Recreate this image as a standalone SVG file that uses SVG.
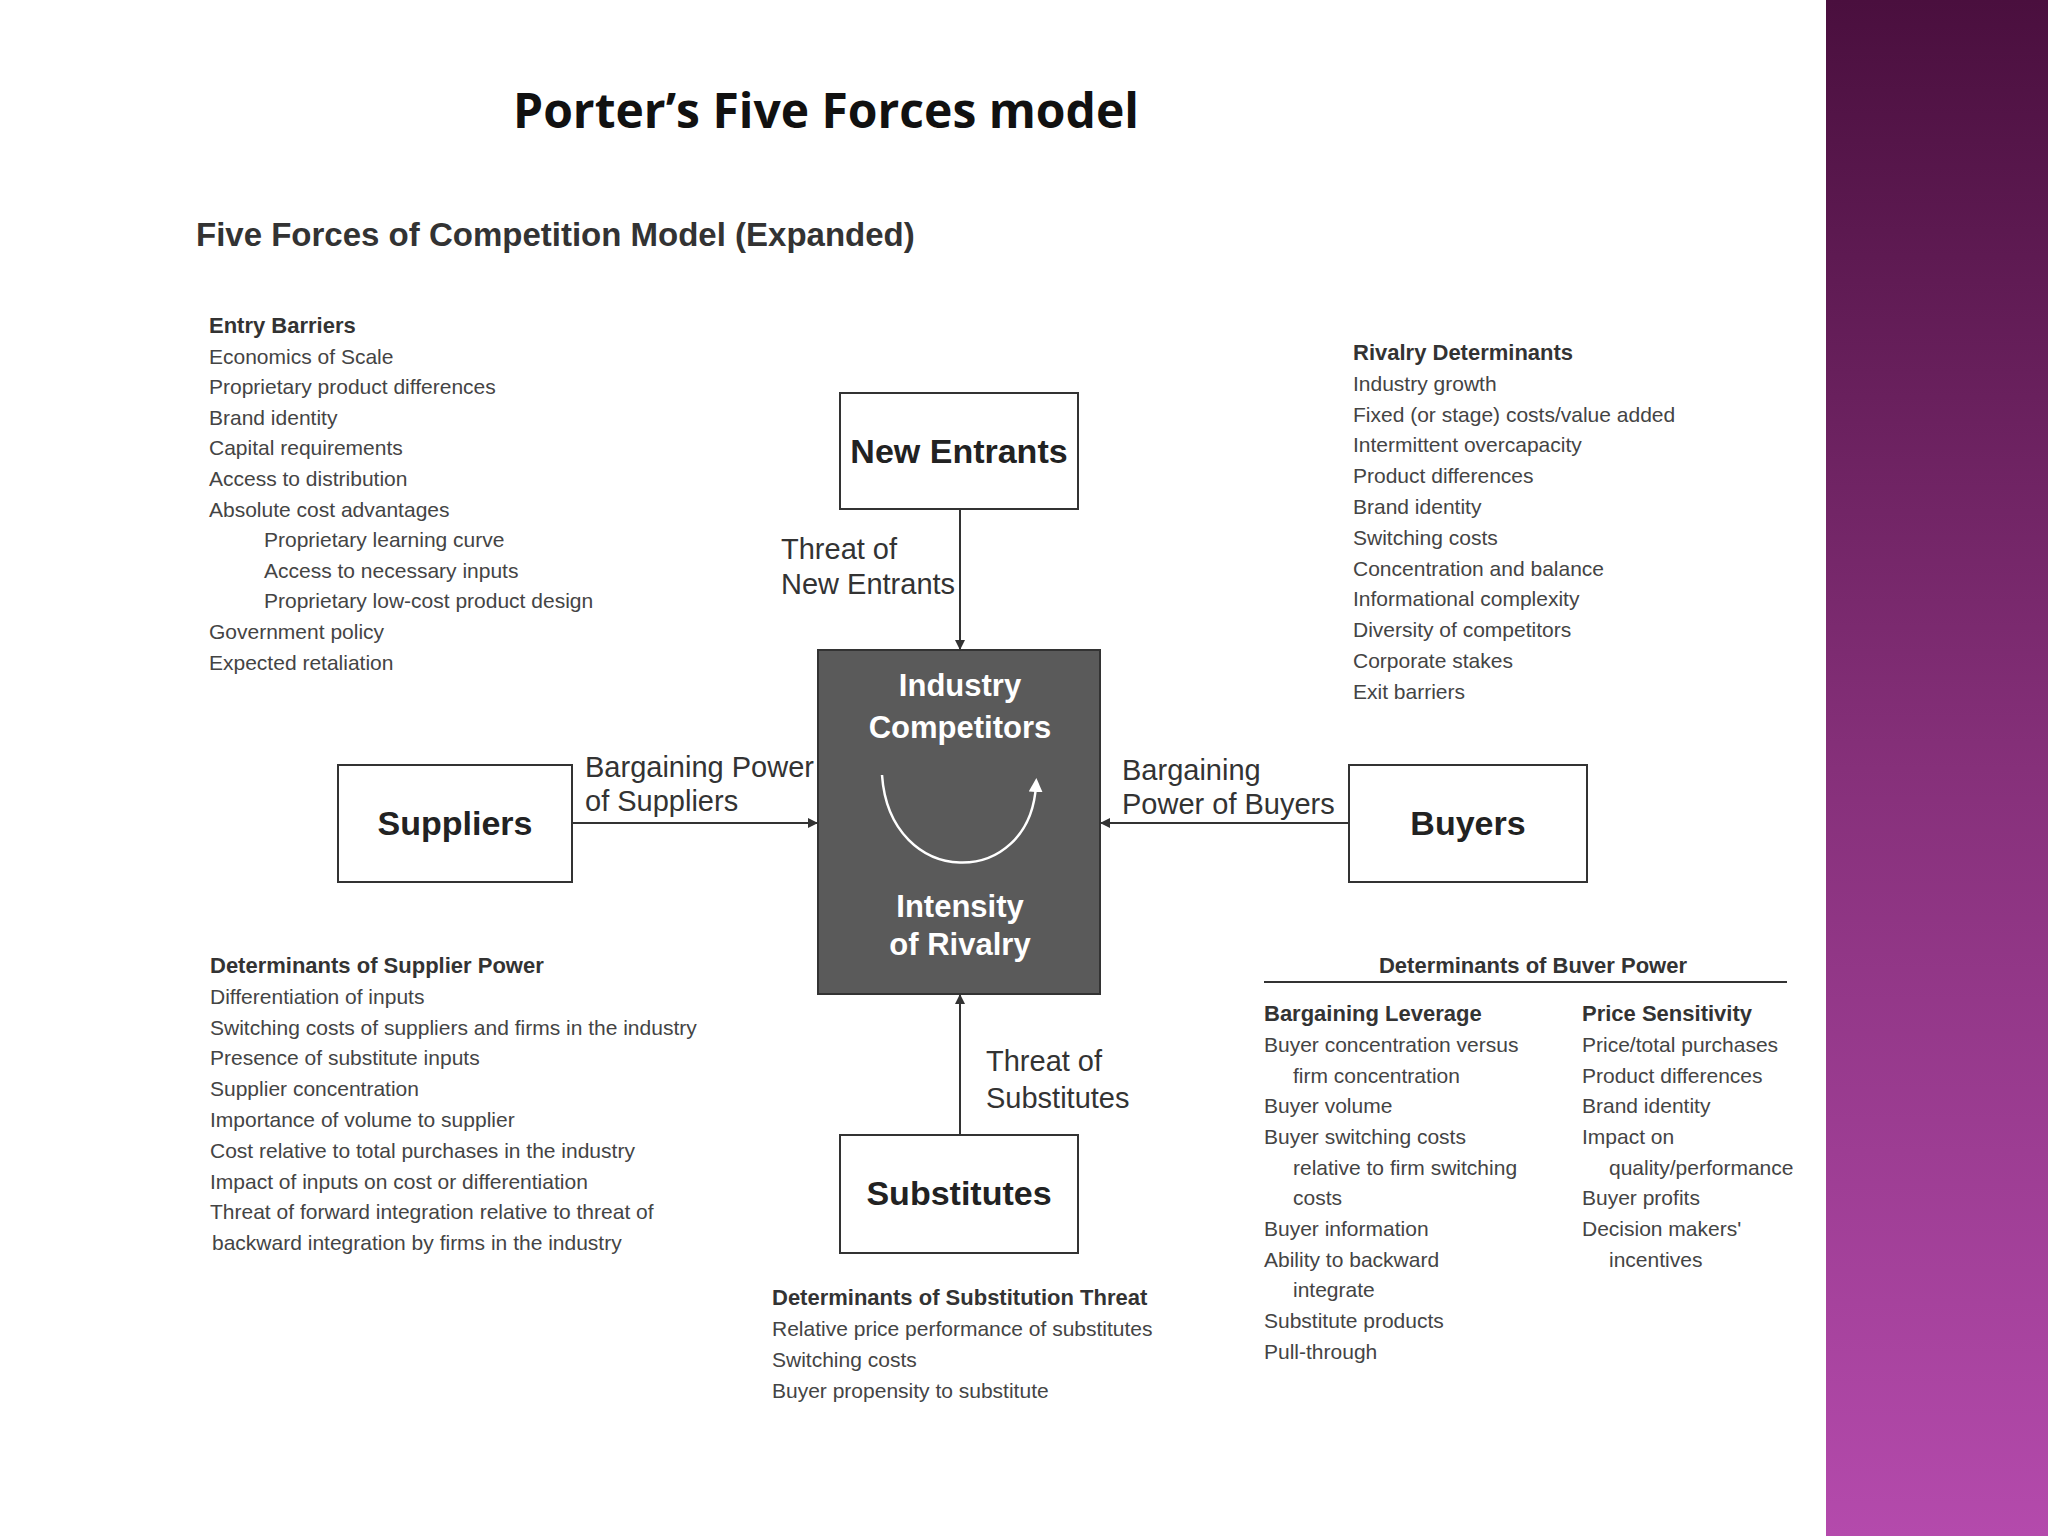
<svg xmlns="http://www.w3.org/2000/svg" width="2048" height="1536" viewBox="0 0 2048 1536">
<defs>
<linearGradient id="band" x1="0" y1="0" x2="0" y2="1">
<stop offset="0" stop-color="#4a0f3e"/><stop offset="0.5" stop-color="#86307a"/><stop offset="1" stop-color="#b44aac"/>
</linearGradient>
<marker id="ah" markerWidth="10" markerHeight="10" refX="9" refY="5" orient="auto" markerUnits="userSpaceOnUse"><path d="M0,0 L10,5 L0,10 z" fill="#333"/></marker>
<marker id="wh" markerWidth="14" markerHeight="14" refX="7" refY="7" orient="auto" markerUnits="userSpaceOnUse"><path d="M0,0 L14,7 L0,14 z" fill="#fff"/></marker>
<style>
.t{font-family:"Liberation Sans",Arial,sans-serif;font-size:21px;fill:#444}
.h{font-family:"Liberation Sans",Arial,sans-serif;font-size:22px;fill:#333;font-weight:bold}
.lab{font-family:"Liberation Sans",Arial,sans-serif;font-size:29px;fill:#333}
.box{fill:#fff;stroke:#333;stroke-width:2}
.bt{font-family:"Liberation Sans",Arial,sans-serif;font-size:34px;font-weight:bold;fill:#222;text-anchor:middle}
.wt{font-family:"Liberation Sans",Arial,sans-serif;font-size:31px;font-weight:bold;fill:#fff;text-anchor:middle}
.c{stroke:#333;stroke-width:2;fill:none}
</style>
</defs>
<rect width="2048" height="1536" fill="#fff"/>
<rect x="1826" y="0" width="222" height="1536" fill="url(#band)"/>
<text x="513" y="128" font-family="Open Sans,Noto Sans,sans-serif" font-size="48" font-weight="bold" fill="#111">Porter’s Five Forces model</text>
<text x="196" y="246" font-family="Liberation Sans,Arial,sans-serif" font-size="33" font-weight="bold" fill="#333">Five Forces of Competition Model (Expanded)</text>

<g id="entry-barriers">
<text class="h" x="209" y="333">Entry Barriers</text>
<text class="t" x="209" y="364">Economics of Scale</text>
<text class="t" x="209" y="394">Proprietary product differences</text>
<text class="t" x="209" y="425">Brand identity</text>
<text class="t" x="209" y="455">Capital requirements</text>
<text class="t" x="209" y="486">Access to distribution</text>
<text class="t" x="209" y="517">Absolute cost advantages</text>
<text class="t" x="264" y="547">Proprietary learning curve</text>
<text class="t" x="264" y="578">Access to necessary inputs</text>
<text class="t" x="264" y="608">Proprietary low-cost product design</text>
<text class="t" x="209" y="639">Government policy</text>
<text class="t" x="209" y="670">Expected retaliation</text>
</g>

<g id="rivalry-determinants">
<text class="h" x="1353" y="360">Rivalry Determinants</text>
<text class="t" x="1353" y="391">Industry growth</text>
<text class="t" x="1353" y="422">Fixed (or stage) costs/value added</text>
<text class="t" x="1353" y="452">Intermittent overcapacity</text>
<text class="t" x="1353" y="483">Product differences</text>
<text class="t" x="1353" y="514">Brand identity</text>
<text class="t" x="1353" y="545">Switching costs</text>
<text class="t" x="1353" y="576">Concentration and balance</text>
<text class="t" x="1353" y="606">Informational complexity</text>
<text class="t" x="1353" y="637">Diversity of competitors</text>
<text class="t" x="1353" y="668">Corporate stakes</text>
<text class="t" x="1353" y="699">Exit barriers</text>
</g>

<g id="supplier-power">
<text class="h" x="210" y="973">Determinants of Supplier Power</text>
<text class="t" x="210" y="1004">Differentiation of inputs</text>
<text class="t" x="210" y="1035">Switching costs of suppliers and firms in the industry</text>
<text class="t" x="210" y="1065">Presence of substitute inputs</text>
<text class="t" x="210" y="1096">Supplier concentration</text>
<text class="t" x="210" y="1127">Importance of volume to supplier</text>
<text class="t" x="210" y="1158">Cost relative to total purchases in the industry</text>
<text class="t" x="210" y="1189">Impact of inputs on cost or differentiation</text>
<text class="t" x="210" y="1219">Threat of forward integration relative to threat of</text>
<text class="t" x="212" y="1250">backward integration by firms in the industry</text>
</g>

<g id="buyer-power">
<text class="h" x="1533" y="973" text-anchor="middle">Determinants of Buver Power</text>
<line x1="1264" y1="982" x2="1787" y2="982" stroke="#333" stroke-width="2"/>
<text class="h" x="1264" y="1021">Bargaining Leverage</text>
<text class="t" x="1264" y="1052">Buyer concentration versus</text>
<text class="t" x="1293" y="1083">firm concentration</text>
<text class="t" x="1264" y="1113">Buyer volume</text>
<text class="t" x="1264" y="1144">Buyer switching costs</text>
<text class="t" x="1293" y="1175">relative to firm switching</text>
<text class="t" x="1293" y="1205">costs</text>
<text class="t" x="1264" y="1236">Buyer information</text>
<text class="t" x="1264" y="1267">Ability to backward</text>
<text class="t" x="1293" y="1297">integrate</text>
<text class="t" x="1264" y="1328">Substitute products</text>
<text class="t" x="1264" y="1359">Pull-through</text>
<text class="h" x="1582" y="1021">Price Sensitivity</text>
<text class="t" x="1582" y="1052">Price/total purchases</text>
<text class="t" x="1582" y="1083">Product differences</text>
<text class="t" x="1582" y="1113">Brand identity</text>
<text class="t" x="1582" y="1144">Impact on</text>
<text class="t" x="1609" y="1175">quality/performance</text>
<text class="t" x="1582" y="1205">Buyer profits</text>
<text class="t" x="1582" y="1236">Decision makers'</text>
<text class="t" x="1609" y="1267">incentives</text>
</g>

<g id="substitution-threat">
<text class="h" x="772" y="1305">Determinants of Substitution Threat</text>
<text class="t" x="772" y="1336">Relative price performance of substitutes</text>
<text class="t" x="772" y="1367">Switching costs</text>
<text class="t" x="772" y="1398">Buyer propensity to substitute</text>
</g>

<g id="connectors">
<line class="c" x1="960" y1="509" x2="960" y2="649" marker-end="url(#ah)"/>
<line class="c" x1="572" y1="823" x2="817" y2="823" marker-end="url(#ah)"/>
<line class="c" x1="1349" y1="823" x2="1101" y2="823" marker-end="url(#ah)"/>
<line class="c" x1="960" y1="1135" x2="960" y2="995" marker-end="url(#ah)"/>
<text class="lab" x="781" y="559">Threat of</text>
<text class="lab" x="781" y="594">New Entrants</text>
<text class="lab" x="585" y="777">Bargaining Power</text>
<text class="lab" x="585" y="811">of Suppliers</text>
<text class="lab" x="1122" y="780">Bargaining</text>
<text class="lab" x="1122" y="814">Power of Buyers</text>
<text class="lab" x="986" y="1071">Threat of</text>
<text class="lab" x="986" y="1108">Substitutes</text>
</g>

<g id="new-entrants"><rect class="box" x="840" y="393" width="238" height="116"/><text class="bt" x="959" y="463">New Entrants</text></g>
<g id="suppliers"><rect class="box" x="338" y="765" width="234" height="117"/><text class="bt" x="455" y="835">Suppliers</text></g>
<g id="buyers"><rect class="box" x="1349" y="765" width="238" height="117"/><text class="bt" x="1468" y="835">Buyers</text></g>
<g id="substitutes"><rect class="box" x="840" y="1135" width="238" height="118"/><text class="bt" x="959" y="1205">Substitutes</text></g>
<g id="industry-competitors">
<rect x="818" y="650" width="282" height="344" fill="#5a5a5a" stroke="#333" stroke-width="2"/>
<text class="wt" x="960" y="696">Industry</text>
<text class="wt" x="960" y="738">Competitors</text>
<path d="M882,775 C890,890 1030,890 1036,785" fill="none" stroke="#fff" stroke-width="2.5" marker-end="url(#wh)"/>
<text class="wt" x="960" y="917">Intensity</text>
<text class="wt" x="960" y="955">of Rivalry</text>
</g>
</svg>
